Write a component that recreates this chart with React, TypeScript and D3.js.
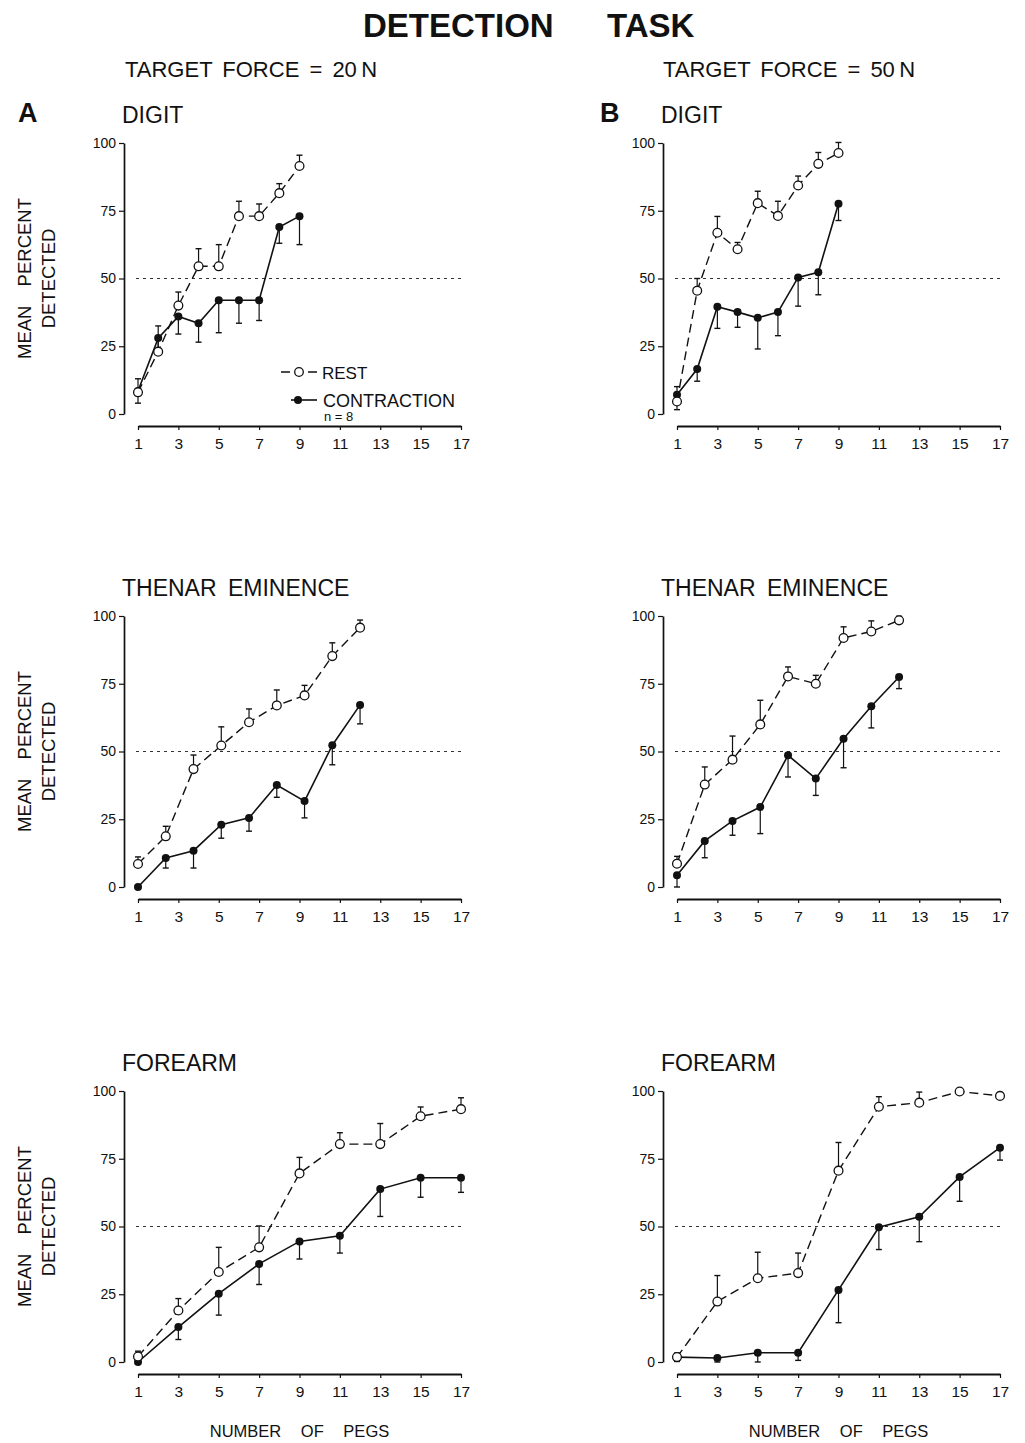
import React, { useEffect, useRef } from 'react'
import * as d3 from 'd3'

const W = 1025
const H = 1443
const FONT = "'Liberation Sans', Arial, Helvetica, sans-serif"

const xTicks = [1, 3, 5, 7, 9, 11, 13, 15, 17]
const yTicks = [0, 25, 50, 75, 100]

// number of pegs at which each site was tested
const digitPegs = [1, 2, 3, 4, 5, 6, 7, 8, 9]
const thenarPegs = [1, 2.375, 3.75, 5.125, 6.5, 7.875, 9.25, 10.625, 12]
const forearmPegs = [1, 3, 5, 7, 9, 11, 13, 15, 17]

// A: target force 20 N
const digit20Rest = [8, 23, 40, 54.5, 54.5, 73, 73, 81.5, 91.5]
const digit20RestErr = [5, 9.5, 5, 6.5, 8, 5.5, 4.5, 3.5, 4]
const digit20Contraction = [8.5, 28, 36, 33.5, 42, 42, 42, 69, 73]
const digit20ContractionErr = [4.5, 5, 6.5, 7, 12, 8.5, 7.5, 6, 10.5]

const thenar20Rest = [8.5, 18.7, 43.5, 52.2, 60.8, 67, 70.7, 85.2, 95.7]
const thenar20RestErr = [2.6, 3.7, 5.2, 6.9, 4.9, 5.7, 3.7, 4.9, 2.8]
const thenar20Contraction = [0, 10.7, 13.4, 23, 25.5, 37.6, 31.7, 52.3, 67.2]
const thenar20ContractionErr = [0, 3.7, 6.4, 5, 4.9, 4.5, 6.2, 7.2, 7]

const forearm20Rest = [2, 19, 33.2, 42.3, 69.6, 80.4, 80.4, 90.7, 93.3]
const forearm20RestErr = [2, 4.4, 9.1, 7.9, 5.9, 4.2, 7.6, 3.4, 4.2]
const forearm20Contraction = [0, 12.9, 25.2, 36.2, 44.5, 46.6, 63.8, 68, 68]
const forearm20ContractionErr = [0, 4.6, 7.9, 7.6, 6.5, 6.4, 10.1, 7.2, 5.4]

// B: target force 50 N
const digit50Rest = [4.6, 45.5, 66.9, 60.8, 77.8, 73.1, 84.3, 92.3, 96.3]
const digit50RestErr = [5.5, 4.5, 6, 2.5, 4.4, 5.4, 3.5, 4.2, 3.9]
const digit50Contraction = [7.1, 16.6, 39.6, 37.6, 35.5, 37.6, 50.4, 52.3, 77.6]
const digit50ContractionErr = [5.5, 4.5, 8, 5.6, 11.5, 8.7, 10.6, 8.3, 6.2]

const thenar50Rest = [8.6, 37.8, 47, 60, 77.7, 75, 91.9, 94.3, 98.4]
const thenar50RestErr = [2.7, 6.5, 8.7, 8.9, 3.5, 3.1, 4.1, 3.9, 1.5]
const thenar50Contraction = [4.3, 17, 24.4, 29.5, 48.6, 40, 54.7, 66.7, 77.5]
const thenar50ContractionErr = [4.3, 6.2, 5.3, 9.8, 8, 6.2, 10.7, 8, 4.3]

const forearm50Rest = [1.8, 22.3, 30.9, 32.8, 70.6, 94.2, 95.7, 99.8, 98.2]
const forearm50RestErr = [1.5, 9.6, 9.6, 7.4, 10.4, 3.7, 3.9, 0, 0]
const forearm50Contraction = [1.8, 1.5, 3.4, 3.4, 26.6, 49.7, 53.6, 68.3, 79.1]
const forearm50ContractionErr = [1.6, 1.5, 3.4, 2.8, 12.1, 8.2, 9.2, 9, 4.6]

const panels = [
  { col: 0, row: 0, title: 'DIGIT', pegs: digitPegs, rest: digit20Rest, restErr: digit20RestErr, con: digit20Contraction, conErr: digit20ContractionErr },
  { col: 1, row: 0, title: 'DIGIT', pegs: digitPegs, rest: digit50Rest, restErr: digit50RestErr, con: digit50Contraction, conErr: digit50ContractionErr },
  { col: 0, row: 1, title: 'THENAR EMINENCE', pegs: thenarPegs, rest: thenar20Rest, restErr: thenar20RestErr, con: thenar20Contraction, conErr: thenar20ContractionErr },
  { col: 1, row: 1, title: 'THENAR EMINENCE', pegs: thenarPegs, rest: thenar50Rest, restErr: thenar50RestErr, con: thenar50Contraction, conErr: thenar50ContractionErr },
  { col: 0, row: 2, title: 'FOREARM', pegs: forearmPegs, rest: forearm20Rest, restErr: forearm20RestErr, con: forearm20Contraction, conErr: forearm20ContractionErr },
  { col: 1, row: 2, title: 'FOREARM', pegs: forearmPegs, rest: forearm50Rest, restErr: forearm50RestErr, con: forearm50Contraction, conErr: forearm50ContractionErr },
]

// layout
const colAxisX = [124, 663]
const colX0 = [138, 677]
const colX1 = [461, 1000]
const rowTop = [143, 616, 1091]
const plotH = 271

export default function App() {
  const ref = useRef<SVGSVGElement>(null)

  useEffect(() => {
    const svg = d3.select(ref.current)
    svg.selectAll('*').remove()

    svg.append('rect').attr('width', W).attr('height', H).attr('fill', '#fff')

    const text = (x: number, y: number, s: string, size: number, opts: any = {}) =>
      svg.append('text')
        .attr('x', x)
        .attr('y', y)
        .attr('font-family', FONT)
        .attr('font-size', size)
        .attr('font-weight', opts.bold ? 'bold' : 'normal')
        .attr('text-anchor', opts.anchor || 'start')
        .attr('word-spacing', opts.ws || 0)
        .attr('fill', '#111')
        .text(s)

    // headings
    text(363, 37, 'DETECTION', 33, { bold: true })
    text(607, 37, 'TASK', 33, { bold: true })
    text(125, 77, 'TARGET FORCE = 20\u2009N', 22, { ws: 4 })
    text(663, 77, 'TARGET FORCE = 50\u2009N', 22, { ws: 4 })
    text(18, 122, 'A', 27, { bold: true })
    text(600, 122, 'B', 27, { bold: true })

    panels.forEach((p, pi) => {
      const top = rowTop[p.row]
      const bottom = top + plotH
      const axisX = colAxisX[p.col]
      const x = d3.scaleLinear().domain([1, 17]).range([colX0[p.col], colX1[p.col]])
      const y = d3.scaleLinear().domain([0, 100]).range([bottom, top])

      const g = svg.append('g')

      text(axisX - 2, top - 20, p.title, 23, { ws: 5 })

      // y axis
      const yAxis = g.append('g')
        .attr('transform', `translate(${axisX},0)`)
        .call(d3.axisLeft(y).tickValues(yTicks).tickSize(5).tickSizeOuter(0).tickPadding(3))
      yAxis.select('.domain').attr('stroke', '#111').attr('stroke-width', 1.7)
      yAxis.selectAll('.tick line').attr('stroke', '#111').attr('stroke-width', 1.2)
      yAxis.selectAll('text').attr('font-family', FONT).attr('font-size', 14).attr('fill', '#111')

      // x axis
      const xAxis = g.append('g')
        .attr('transform', `translate(0,${bottom + 12})`)
        .call(d3.axisBottom(x).tickValues(xTicks).tickSize(4).tickSizeOuter(0).tickPadding(8))
      xAxis.select('.domain').attr('stroke', '#111').attr('stroke-width', 1.8)
      xAxis.selectAll('.tick line').attr('stroke', '#111').attr('stroke-width', 1.2)
      xAxis.selectAll('text').attr('font-family', FONT).attr('font-size', 15.5).attr('fill', '#111')

      // 50 % reference
      g.append('line')
        .attr('x1', x(1) - 2).attr('x2', x(17) + 1)
        .attr('y1', y(50)).attr('y2', y(50))
        .attr('stroke', '#333').attr('stroke-width', 1)
        .attr('stroke-dasharray', '3,4')

      const restPts = p.pegs.map((v, i) => ({ x: v, y: p.rest[i], e: p.restErr[i] }))
      const conPts = p.pegs.map((v, i) => ({ x: v, y: p.con[i], e: p.conErr[i] }))

      const line = d3.line<any>().x(d => x(d.x)).y(d => y(d.y))

      g.append('path').attr('d', line(conPts))
        .attr('fill', 'none').attr('stroke', '#111').attr('stroke-width', 1.6)
      g.append('path').attr('d', line(restPts))
        .attr('fill', 'none').attr('stroke', '#111').attr('stroke-width', 1.4)
        .attr('stroke-dasharray', '9,5')

      // error bars: rest upward, contraction downward
      const bars = [
        ...restPts.filter(d => d.e > 0).map(d => ({ x: d.x, y0: d.y, y1: d.y + d.e })),
        ...conPts.filter(d => d.e > 0).map(d => ({ x: d.x, y0: d.y, y1: d.y - d.e })),
      ]
      const eb = g.append('g').selectAll('g').data(bars).enter().append('g')
      eb.append('line')
        .attr('x1', d => x(d.x)).attr('x2', d => x(d.x))
        .attr('y1', d => y(d.y0)).attr('y2', d => y(d.y1))
        .attr('stroke', '#111').attr('stroke-width', 1.2)
      eb.append('line')
        .attr('x1', d => x(d.x) - 3).attr('x2', d => x(d.x) + 3)
        .attr('y1', d => y(d.y1)).attr('y2', d => y(d.y1))
        .attr('stroke', '#111').attr('stroke-width', 1.4)

      g.append('g').selectAll('circle').data(conPts).enter().append('circle')
        .attr('cx', d => x(d.x)).attr('cy', d => y(d.y)).attr('r', 4)
        .attr('fill', '#111')
      g.append('g').selectAll('circle').data(restPts).enter().append('circle')
        .attr('cx', d => x(d.x)).attr('cy', d => y(d.y)).attr('r', 4.4)
        .attr('fill', '#fff').attr('stroke', '#111').attr('stroke-width', 1.3)

      // y-axis title on the left column
      if (p.col === 0) {
        const cy = y(50)
        svg.append('text')
          .attr('transform', `translate(31,${cy}) rotate(-90)`)
          .attr('text-anchor', 'middle').attr('font-family', FONT).attr('font-size', 18.5)
          .attr('word-spacing', 14).attr('fill', '#111')
          .text('MEAN PERCENT')
        svg.append('text')
          .attr('transform', `translate(55,${cy}) rotate(-90)`)
          .attr('text-anchor', 'middle').attr('font-family', FONT).attr('font-size', 18.5)
          .attr('fill', '#111')
          .text('DETECTED')
      }

      if (p.row === 2) {
        text((colX0[p.col] + colX1[p.col]) / 2, 1437, 'NUMBER OF PEGS', 16.5, { anchor: 'middle', ws: 15 })
      }

      // legend in panel A digit
      if (pi === 0) {
        const lg = g.append('g')
        const ry = y(0) - 42
        const cy2 = y(0) - 14
        lg.append('line').attr('x1', 281).attr('x2', 317).attr('y1', ry).attr('y2', ry)
          .attr('stroke', '#111').attr('stroke-width', 1.3).attr('stroke-dasharray', '9,18')
        lg.append('circle').attr('cx', 299).attr('cy', ry).attr('r', 4.3)
          .attr('fill', '#fff').attr('stroke', '#111').attr('stroke-width', 1.3)
        lg.append('line').attr('x1', 291).attr('x2', 317).attr('y1', cy2).attr('y2', cy2)
          .attr('stroke', '#111').attr('stroke-width', 1.6)
        lg.append('circle').attr('cx', 298).attr('cy', cy2).attr('r', 4).attr('fill', '#111')
        text(322, ry + 7, 'REST', 17)
        text(323, cy2 + 7, 'CONTRACTION', 18)
        text(324, cy2 + 21, 'n = 8', 13)
      }
    })
  }, [])

  return (
    <svg
      ref={ref}
      width={W}
      height={H}
      style={{ position: 'absolute', left: 0, top: 0, display: 'block' }}
    />
  )
}
